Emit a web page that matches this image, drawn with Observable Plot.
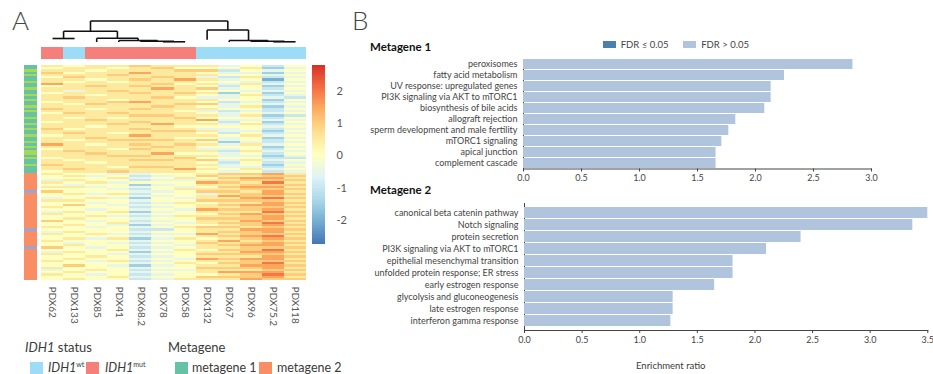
<!DOCTYPE html>
<html><head><meta charset="utf-8">
<script src="https://cdn.jsdelivr.net/npm/d3@7"></script>
<script src="https://cdn.jsdelivr.net/npm/@observablehq/plot@0.6"></script>
<style>
body{margin:0;background:#fff;font-family:Lato,"Open Sans",sans-serif;}
#root{position:relative;width:933px;height:374px;overflow:hidden;background:#fff;}
.abs{position:absolute;}
.txt{position:absolute;color:#3a3a3a;white-space:nowrap;line-height:1.25;}
.sw{position:absolute;width:13px;height:12px;}
.fdr-swatch{margin-right:15px !important;}
.barplot [aria-label="x-axis line"], .barplot [aria-label="x-axis line"] *{stroke-width:1.7;stroke:#555;}
.barplot [aria-label="y-axis line"], .barplot [aria-label="y-axis line"] *{stroke:#555;}
</style></head><body><div id="root"></div>
<script>
// ---------- data ----------
const samples = ["PDX62","PDX133","PDX85","PDX41","PDX68.2","PDX78","PDX58","PDX132","PDX67","PDX96","PDX75.2","PDX118"];
const idh1Status = ["mut","wt","mut","mut","mut","mut","mut","wt","wt","wt","wt","wt"];
// dendrogram linkage: [childA, childB, height]; ids < 12 are leaves, >= 12 are earlier merges
const merges = [[5,6,0.033],[4,12,0.056],[3,13,0.093],[2,14,0.195],[0,1,0.186],[16,15,0.526],[10,11,0.033],[9,18,0.056],[8,19,0.093],[7,20,0.58],[17,21,1.0]];
const leafBottom = [0.186,0.186,0.02,0.02,0.02,0.02,0.02,0.126,0.02,0.02,0.02,0.02];
// heatmap levels: digit d -> (d-5)/2 z-score
const g1Rows = ["656676664535","566567555624","665666773545","756686654424","666766665545","576667643634","665676864515","656566655434","866667564645","567676653524","666668674535","646766655444","566676762525","665666654634","676667544543","666566665525","566786653434","657666774545","666667654624","765676665535","666666543434","576766654545","666677664623","656566755535","667666684444","566676653525","666768664634","665666555545","756676644534","666667764425","676566653534","566686665645","667666554524","656777674535","666666652434","865676764645","666667655524","566576644535","676666663644","667668554535","666776664424","566666755533","656677674645","665666653534","766666664525","666577654434","676666865645","566766654534"];
const g2Rows = ["655445567786","564534576677","555645657886","465534466777","656455587696","545524566777","664545457886","555435666777","755544577686","564635546787","555544568776","456425466897","665545577776","554534656687","575445567886","655534566777","554545487786","465624566697","655545557876","556434666787","565545577786","754534566877","555645467796","565424556787","654545677676","555533566887","465545567786","656434486777","555545567896","564624656787","655545568676","545434576787","565545467886","754534566777","555645657796","465524566887","655445577776","556534566687","565545487886","654634566777","555545657796","575424566887","655545577786","456534466677","565545568886","654534556797","555645577786","565534666877"];
const limeRows = [2,4,7,10,13,15,18,20,23,26,28,31,34,36,38,39,41,44];
const purpleRows = [56,73,81];
const colorTicks = [-2,-1,0,1,2];
const colorDomain = [-2.75,2.8];

const fdrLevels = ["FDR ≤ 0.05","FDR > 0.05"];
const fdrColors = ["#4a80b0","#b0c4de"];
const m1Terms = ["peroxisomes","fatty acid metabolism","UV response: upregulated genes","PI3K signaling via AKT to mTORC1","biosynthesis of bile acids","allograft rejection","sperm development and male fertility","mTORC1 signaling","apical junction","complement cascade"];
const m1Values = [2.84,2.25,2.135,2.135,2.08,1.83,1.77,1.71,1.66,1.66];
const m1Fdr = Array(10).fill("FDR > 0.05");
const m1Ticks = [0,0.5,1,1.5,2,2.5,3];
const m2Terms = ["canonical beta catenin pathway","Notch signaling","protein secretion","PI3K signaling via AKT to mTORC1","epithelial mesenchymal transition","unfolded protein response; ER stress","early estrogen response","glycolysis and gluconeogenesis","late estrogen response","interferon gamma response"];
const m2Values = [3.5,3.37,2.40,2.10,1.81,1.81,1.65,1.29,1.29,1.27];
const m2Fdr = Array(10).fill("FDR > 0.05");
const m2Ticks = [0,0.5,1,1.5,2,2.5,3,3.5];

// ---------- helpers ----------
const root = document.getElementById("root");
function place(el, left, top){ el.classList.add("abs"); el.style.left = left+"px"; el.style.top = top+"px"; root.appendChild(el); return el; }
function text(str, left, top, size, extra){ const d=document.createElement("div"); d.className="txt"; d.innerHTML=str; d.style.left=left+"px"; d.style.top=top+"px"; d.style.fontSize=size+"px"; if(extra) Object.assign(d.style, extra); root.appendChild(d); return d; }
function swatch(color, left, top){ const d=document.createElement("div"); d.className="sw"; d.style.background=color; d.style.left=left+"px"; d.style.top=top+"px"; root.appendChild(d); }

const rdylbu9 = ["#4575b4","#74add1","#abd9e9","#e0f3f8","#ffffbf","#fee090","#fdae61","#f46d43","#d73027"];
const colorScale = {type:"linear", domain: d3.range(9).map(i => colorDomain[0] + i*(colorDomain[1]-colorDomain[0])/8), range: rdylbu9};

// ---------- panel A: heatmap ----------
const allRows = g1Rows.concat(g2Rows);
const nRows = allRows.length;
const heat = [];
allRows.forEach((s, r) => { for (let c = 0; c < samples.length; c++) heat.push({sample: samples[c], row: r, value: (+s[c] - 5) / 2}); });

const heatW = 265, heatH = 215;
place(Plot.plot({
  width: heatW, height: heatH + 48, marginLeft: 0, marginRight: 0, marginTop: 0, marginBottom: 48,
  x: {domain: samples, padding: 0, round: false, tickRotate: 90, tickSize: 0, tickPadding: 6, label: null},
  y: {domain: d3.range(nRows), padding: 0, round: false, axis: null},
  color: colorScale,
  style: {fontFamily: "Lato", fontSize: "10px", color: "#555", background: "transparent", overflow: "visible"},
  marks: [Plot.cell(heat, {x: "sample", y: "row", fill: "value", shapeRendering: "crispEdges"})]
}), 41, 65);

// metagene side bar
const side = d3.range(nRows).map(r => ({row: r, col: limeRows.includes(r) ? "#a6d854" : purpleRows.includes(r) ? "#9aa5d4" : (r < g1Rows.length ? "#66c2a5" : "#f98e64")}));
place(Plot.plot({
  width: 13, height: heatH, margin: 0,
  x: {axis: null}, y: {domain: d3.range(nRows), padding: 0, round: false, axis: null},
  marks: [Plot.cell(side, {y: "row", fill: "col", shapeRendering: "crispEdges"})]
}), 24, 65);

// IDH1 status bar
const statusColor = {wt: "#9ddcf6", mut: "#f47f7b"};
place(Plot.plot({
  width: heatW, height: 12, margin: 0,
  x: {domain: samples, padding: 0, round: false, axis: null},
  marks: [Plot.cell(samples.map((s, i) => ({sample: s, col: statusColor[idh1Status[i]]})), {x: "sample", fill: "col", shapeRendering: "crispEdges"})]
}), 41, 47);

// dendrogram
const nodeX = samples.map((s, i) => i + 0.5), nodeH = leafBottom.slice();
const segs = [];
merges.forEach(([a, b, h]) => {
  segs.push({x1: nodeX[a], y1: h, x2: nodeX[b], y2: h});
  segs.push({x1: nodeX[a], y1: h, x2: nodeX[a], y2: nodeH[a]});
  segs.push({x1: nodeX[b], y1: h, x2: nodeX[b], y2: nodeH[b]});
  nodeX.push((nodeX[a] + nodeX[b]) / 2); nodeH.push(h);
});
place(Plot.plot({
  width: heatW, height: 26, marginLeft: 0, marginRight: 0, marginTop: 2.5, marginBottom: 2,
  x: {domain: [0, samples.length], axis: null}, y: {domain: [0, 1], axis: null},
  style: {overflow: "visible", background: "transparent"},
  marks: [Plot.link(segs, {x1: "x1", y1: "y1", x2: "x2", y2: "y2", stroke: "#111", strokeWidth: 1.6})]
}), 41, 18);

// colour bar
const cbStep = 0.05;
const cbStops = d3.range(colorDomain[0], colorDomain[1], cbStep);
place(Plot.plot({
  width: 13 + 30, height: 179, marginLeft: 0, marginRight: 30, marginTop: 0, marginBottom: 0,
  x: {domain: [0, 1], axis: null},
  y: {domain: colorDomain, ticks: colorTicks, tickSize: 0, tickPadding: 11, axis: "right", label: null, tickFormat: d => String(d)},
  color: colorScale,
  style: {fontFamily: "Lato", fontSize: "11px", color: "#555", background: "transparent"},
  marks: [Plot.rect(cbStops, {x1: 0, x2: 1, y1: d => d, y2: d => d + cbStep, fill: d => d + cbStep / 2, shapeRendering: "crispEdges"})]
}), 312, 65);

// panel A legend
text("A", 12, 7, 26, {color: "#444", fontWeight: "300", lineHeight: "1"});
text("<i>IDH1</i> status", 25, 339, 13);
text("Metagene", 168, 339, 13);
swatch("#9ddcf6", 30, 362); text("<i>IDH1</i><sup style='font-size:7px;line-height:0'>wt</sup>", 48, 360, 12.5);
swatch("#f47f7b", 86, 362); text("<i>IDH1</i><sup style='font-size:7px;line-height:0'>mut</sup>", 105, 360, 12.5);
swatch("#66c2a5", 175, 362); text("metagene 1", 192, 360, 12.5);
swatch("#f98e64", 259, 362); text("metagene 2", 277, 360, 12.5);

// ---------- panel B ----------
text("B", 352, 7, 26, {color: "#444", fontWeight: "300", lineHeight: "1"});
function barChart(terms, values, fdr, ticks, opts) {
  const data = terms.map((t, i) => ({term: t, value: values[i], fdr: fdr[i]}));
  const svg = Plot.plot({
    width: opts.width, height: opts.height, marginLeft: opts.marginLeft, marginRight: opts.marginRight, marginTop: opts.marginTop, marginBottom: opts.marginBottom,
    x: {domain: [ticks[0], ticks[ticks.length - 1]], ticks: ticks, tickFormat: d3.format(".1f"), tickSize: 3, tickPadding: 3, line: true, label: null},
    y: {domain: terms, paddingInner: 0.09, paddingOuter: 0, tickSize: 0, tickPadding: 6, line: true, label: null},
    color: {domain: fdrLevels, range: fdrColors},
    style: {fontFamily: "Lato", fontSize: "9px", color: "#444", background: "transparent", overflow: "visible"},
    marks: [Plot.barX(data, {x: "value", y: "term", fill: "fdr"})]
  });
  svg.classList.add("barplot");
  return svg;
}
text("Metagene 1", 370, 40, 11.5, {fontWeight: "bold", color: "#111"});
place(barChart(m1Terms, m1Values, m1Fdr, m1Ticks, {width: 526, height: 134, marginLeft: 163, marginRight: 15, marginTop: 4, marginBottom: 20.5}), 360, 55);
text("Metagene 2", 370, 183, 11.5, {fontWeight: "bold", color: "#111"});
place(barChart(m2Terms, m2Values, m2Fdr, m2Ticks, {width: 572, height: 152, marginLeft: 164, marginRight: 4.7, marginTop: 5, marginBottom: 20}), 360, 198);
text("Enrichment ratio", 636, 360, 9.5);

const leg = Plot.legend({color: {domain: fdrLevels, range: fdrColors}, swatchWidth: 13, swatchHeight: 7, className: "fdr", style: {fontFamily: "Lato", fontSize: "9.5px", color: "#444"}});
place(leg, 603, 28);
</script></body></html>
